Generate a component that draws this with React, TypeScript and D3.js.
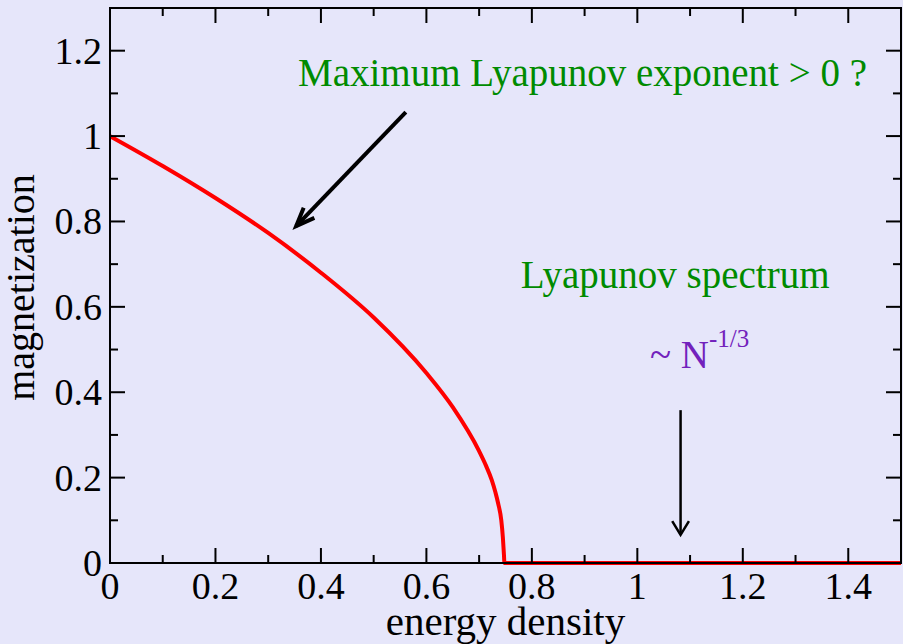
import React from "react";
import * as d3 from "d3";

// Magnetization vs energy density
const energy = [0, 0.1, 0.2, 0.3, 0.4, 0.5, 0.6, 0.65, 0.7, 0.713, 0.724, 0.731, 0.736, 0.742, 0.745, 0.747, 0.748, 1.5];
const magnetization = [1, 0.93, 0.855, 0.773, 0.68, 0.575, 0.445, 0.365, 0.262, 0.228, 0.194, 0.165, 0.14, 0.1, 0.06, 0.02, 0, 0];

const xMajor = [0, 0.2, 0.4, 0.6, 0.8, 1, 1.2, 1.4];
const xMinor = [0.1, 0.3, 0.5, 0.7, 0.9, 1.1, 1.3, 1.5];
const yMajor = [0, 0.2, 0.4, 0.6, 0.8, 1, 1.2];
const yMinor = [0.1, 0.3, 0.5, 0.7, 0.9, 1.1, 1.3];
const xTickLabels = ["0", "0.2", "0.4", "0.6", "0.8", "1", "1.2", "1.4"];
const yTickLabels = ["0", "0.2", "0.4", "0.6", "0.8", "1", "1.2"];

const W = 903;
const H = 644;
const plot = { left: 110, right: 901, top: 8, bottom: 563 };

const BG = "#e6e6fa";
const GREEN = "rgb(0,139,0)";
const INDIGO = "rgb(114,33,188)";
const FONT = "'Liberation Serif', 'Times New Roman', serif";

function arrowHead(x1: number, y1: number, x2: number, y2: number, len: number, spread: number) {
  const a = Math.atan2(y2 - y1, x2 - x1);
  const p1 = [x2 - len * Math.cos(a - spread), y2 - len * Math.sin(a - spread)];
  const p2 = [x2 - len * Math.cos(a + spread), y2 - len * Math.sin(a + spread)];
  return `M${p1[0]},${p1[1]}L${x2},${y2}L${p2[0]},${p2[1]}`;
}

export default function App() {
  const x = d3.scaleLinear().domain([0, 1.5]).range([plot.left, plot.right]);
  const y = d3.scaleLinear().domain([0, 1.3]).range([plot.bottom, plot.top]);

  const line = d3
    .line<number>()
    .x((_, i) => x(energy[i]))
    .y((d) => y(d))
    .curve(d3.curveMonotoneX);

  const majorLen = 15;
  const minorLen = 8;

  // annotation arrows in data coordinates
  const a1 = { x1: x(0.561), y1: y(1.056), x2: x(0.353), y2: y(0.789) };
  const a2 = { x1: x(1.082), y1: y(0.358), x2: x(1.082), y2: y(0.066) };

  return (
    <svg
      width={W}
      height={H}
      style={{ position: "absolute", left: 0, top: 0, fontFamily: FONT }}
      fontFamily={FONT}
    >
      <rect x={0} y={0} width={W} height={H} fill={BG} />

      <path d={line(magnetization) || ""} fill="none" stroke="red" strokeWidth={4} strokeLinejoin="round" />

      {/* frame */}
      <rect
        x={plot.left}
        y={plot.top}
        width={plot.right - plot.left}
        height={plot.bottom - plot.top}
        fill="none"
        stroke="black"
        strokeWidth={2}
      />

      {/* ticks, mirrored on all sides */}
      <g stroke="black" strokeWidth={2}>
        {xMajor.map((v) => (
          <g key={"xM" + v}>
            <line x1={x(v)} x2={x(v)} y1={plot.bottom} y2={plot.bottom - majorLen} />
            <line x1={x(v)} x2={x(v)} y1={plot.top} y2={plot.top + majorLen} />
          </g>
        ))}
        {xMinor.map((v) => (
          <g key={"xm" + v}>
            <line x1={x(v)} x2={x(v)} y1={plot.bottom} y2={plot.bottom - minorLen} />
            <line x1={x(v)} x2={x(v)} y1={plot.top} y2={plot.top + minorLen} />
          </g>
        ))}
        {yMajor.map((v) => (
          <g key={"yM" + v}>
            <line x1={plot.left} x2={plot.left + majorLen} y1={y(v)} y2={y(v)} />
            <line x1={plot.right} x2={plot.right - majorLen} y1={y(v)} y2={y(v)} />
          </g>
        ))}
        {yMinor.map((v) => (
          <g key={"ym" + v}>
            <line x1={plot.left} x2={plot.left + minorLen} y1={y(v)} y2={y(v)} />
            <line x1={plot.right} x2={plot.right - minorLen} y1={y(v)} y2={y(v)} />
          </g>
        ))}
      </g>

      {/* tick labels */}
      <g fontSize={38} fill="black">
        {xMajor.map((v, i) => (
          <text key={"xl" + v} x={x(v)} y={599} textAnchor="middle">
            {xTickLabels[i]}
          </text>
        ))}
        {yMajor.map((v, i) => (
          <text key={"yl" + v} x={102} y={y(v)} textAnchor="end" dominantBaseline="central">
            {yTickLabels[i]}
          </text>
        ))}
      </g>

      {/* axis titles */}
      <text x={(plot.left + plot.right) / 2} y={635} textAnchor="middle" fontSize={41} fill="black">
        energy density
      </text>
      <text
        transform={`translate(34,${(plot.top + plot.bottom) / 2 + 2}) rotate(-90)`}
        textAnchor="middle"
        fontSize={40}
        fill="black"
      >
        magnetization
      </text>

      {/* annotations */}
      <text x={x(0.3565)} y={y(1.117)} fontSize={39} fill={GREEN}>
        Maximum Lyapunov exponent &gt; 0 ?
      </text>
      <text x={x(0.779)} y={y(0.644)} fontSize={39} fill={GREEN}>
        Lyapunov spectrum
      </text>
      <text x={x(1.024)} y={y(0.457)} fontSize={39} fill={INDIGO}>
        ~ N
        <tspan fontSize={25} dy={-21}>
          -1/3
        </tspan>
      </text>

      <g stroke="black" fill="none" strokeLinecap="butt">
        <line x1={a1.x1} y1={a1.y1} x2={a1.x2} y2={a1.y2} strokeWidth={4} />
        <path d={arrowHead(a1.x1, a1.y1, a1.x2, a1.y2, 20, 0.38)} strokeWidth={4} strokeLinejoin="miter" />
        <line x1={a2.x1} y1={a2.y1} x2={a2.x2} y2={a2.y2} strokeWidth={2.5} />
        <path d={arrowHead(a2.x1, a2.y1, a2.x2, a2.y2, 16, 0.55)} strokeWidth={2.5} />
      </g>
    </svg>
  );
}
